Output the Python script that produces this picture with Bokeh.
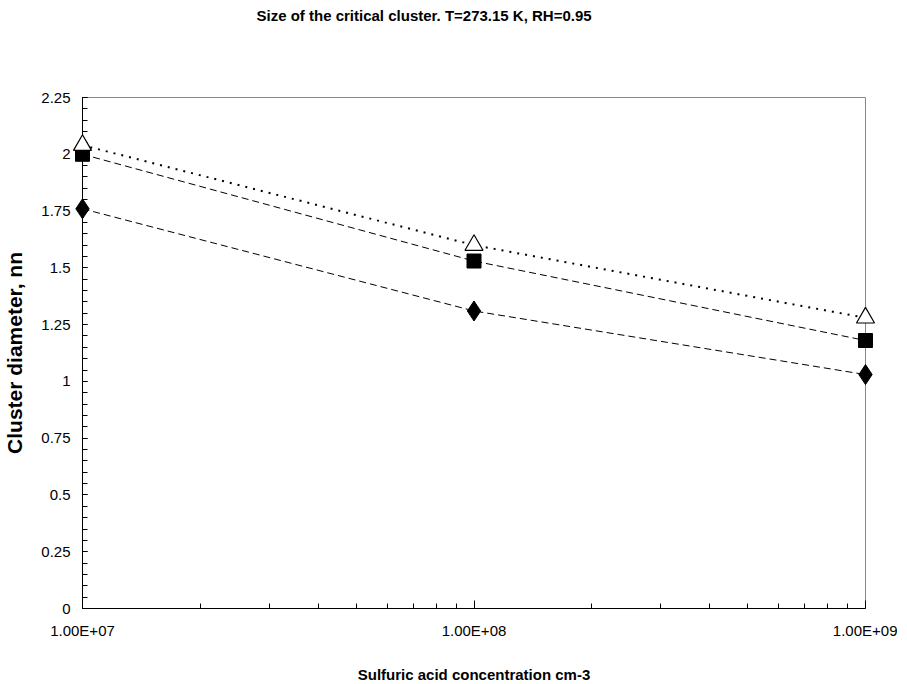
from bokeh.plotting import figure
from bokeh.models import FixedTicker, Title
from bokeh.embed import file_html
from bokeh.resources import INLINE

# ---- data ----
concentration = [1e7, 1e8, 1e9]
diam_diamond = [1.76, 1.31, 1.03]
diam_square = [2.00, 1.53, 1.18]
diam_triangle = [2.04, 1.60, 1.28]

x_ticks = [1e7, 1e8, 1e9]
x_tick_labels = ["1.00E+07", "1.00E+08", "1.00E+09"]
y_ticks = [0, 0.25, 0.5, 0.75, 1, 1.25, 1.5, 1.75, 2, 2.25]
y_tick_labels = ["0", "0.25", "0.5", "0.75", "1", "1.25", "1.5", "1.75", "2", "2.25"]

title_text = "Size of the critical cluster. T=273.15 K, RH=0.95"
x_label = "Sulfuric acid concentration cm-3"
y_label = "Cluster diameter, nn"

FONT = "Liberation Sans"

p = figure(x_axis_type="log",
           x_range=(1e7, 1e9), y_range=(0, 2.25),
           output_backend="svg", toolbar_location=None,
           frame_width=783, frame_height=511,
           min_border_left=76, min_border_right=32,
           min_border_top=0, min_border_bottom=0)

# spacer between frame and title (closest to the frame)
p.add_layout(Title(text=" ", text_font_size="10px", standoff=57), "above")

p.title.text = title_text
p.title.align = "left"
p.title.offset = 174
p.title.standoff = 8
p.title.text_font = FONT
p.title.text_font_size = "15px"
p.title.text_font_style = "bold"
p.title.text_color = "black"

p.xgrid.visible = False
p.ygrid.visible = False
p.outline_line_color = "#888888"
p.outline_line_width = 1
p.background_fill_color = "white"
p.border_fill_color = "white"

# x axis
x_minor = [m * d for d in (1e7, 1e8) for m in range(2, 10)]
p.xaxis.ticker = FixedTicker(ticks=x_ticks, minor_ticks=x_minor)
p.xaxis.major_label_overrides = dict(zip(x_ticks, x_tick_labels))
p.xaxis.axis_label = x_label

# y axis
y_minor = [round(i * 0.05, 2) for i in range(0, 46)]
p.yaxis.ticker = FixedTicker(ticks=y_ticks, minor_ticks=y_minor)
p.yaxis.major_label_overrides = dict(zip(y_ticks, y_tick_labels))
p.yaxis.axis_label = y_label

for ax in (p.xaxis[0], p.yaxis[0]):
    ax.axis_line_color = "black"
    ax.axis_line_width = 1
    ax.major_tick_line_color = "black"
    ax.minor_tick_line_color = "black"
    ax.major_tick_out = 0
    ax.minor_tick_out = 0
    ax.major_label_text_font = FONT
    ax.major_label_text_font_size = "15px"
    ax.major_label_text_color = "black"
    ax.axis_label_text_font = FONT
    ax.axis_label_text_font_style = "bold"
    ax.axis_label_text_color = "black"

p.xaxis.major_tick_in = 8
p.xaxis.minor_tick_in = 5
p.xaxis.major_label_standoff = 13
p.xaxis.axis_label_text_font_size = "15px"
p.xaxis.axis_label_standoff = 24

p.yaxis.major_tick_in = 5
p.yaxis.minor_tick_in = 5
p.yaxis.major_label_standoff = 12
p.yaxis.axis_label_text_font_size = "21px"
p.yaxis.axis_label_standoff = 12

# series
p.line(concentration, diam_diamond, line_color="black", line_width=1, line_dash="7 4")
p.line(concentration, diam_square, line_color="black", line_width=1, line_dash="7 4")
p.line(concentration, diam_triangle, line_color="black", line_width=2, line_dash="2 6")

r1 = p.scatter(concentration, diam_diamond, marker="diamond", size=20,
               fill_color="black", line_color="black")
r2 = p.scatter(concentration, diam_square, marker="square", size=14,
               fill_color="black", line_color="black")
r3 = p.scatter(concentration, diam_triangle, marker="triangle", size=18,
               fill_color="white", line_color="black", line_width=1.2)
for r in (r1, r2, r3):
    r.level = "overlay"

open("out.html", "w").write(file_html(p, INLINE))
